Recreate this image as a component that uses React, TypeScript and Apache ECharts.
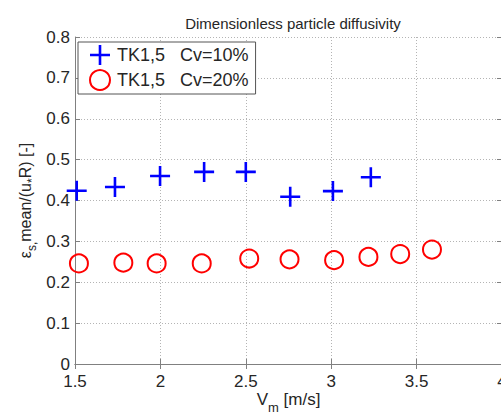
import React, { useEffect, useRef } from "react";
import * as echarts from "echarts";

const seriesNames = ["TK1,5   Cv=10%", "TK1,5   Cv=20%"];
const cv10X = [1.51, 1.734, 1.998, 2.256, 2.5, 2.76, 3.01, 3.232];
const cv10Y = [0.424, 0.433, 0.46, 0.47, 0.47, 0.409, 0.423, 0.457];
const cv20X = [1.523, 1.783, 1.978, 2.242, 2.52, 2.756, 3.017, 3.218, 3.404, 3.59];
const cv20Y = [0.246, 0.248, 0.246, 0.246, 0.258, 0.256, 0.254, 0.262, 0.269, 0.28];

const xMin = 1.5, xMax = 4, xStep = 0.5;
const yMin = 0, yMax = 0.8, yStep = 0.1;

const FONT = "'Liberation Sans', Arial, sans-serif";
const PLUS = "path://M8.7,0h2.6v8.7h8.7v2.6h-8.7v8.7h-2.6v-8.7h-8.7v-2.6h8.7z";

export default function App() {
  const ref = useRef<HTMLDivElement>(null);
  useEffect(() => {
    if (!ref.current) return;
    const chart = echarts.init(ref.current, null, { renderer: "svg" });
    const axisLine = { show: true, lineStyle: { color: "#808080", width: 1 } };
    const tick = { show: true, inside: true, length: 5, lineStyle: { color: "#808080" } };
    const split = { show: true, lineStyle: { color: "#b4b4b4", type: [1, 2] as any, width: 1 } };
    const label = { color: "#262626", fontSize: 17, fontFamily: FONT };
    chart.setOption({
      animation: false,
      backgroundColor: "#fff",
      title: {
        text: "Dimensionless particle diffusivity",
        left: 288,
        textAlign: "center",
        top: 11,
        textStyle: { fontSize: 15, fontWeight: "normal", color: "#262626", fontFamily: FONT },
      },
      grid: { left: 75, top: 37, right: -1, bottom: 48, outerBoundsMode: "none", containLabel: false },
      legend: {
        orient: "vertical",
        left: 78,
        top: 42,
        padding: [3, 7, 3, 11],
        itemGap: 4,
        itemWidth: 20,
        itemHeight: 20,
        borderColor: "#555",
        borderWidth: 1,
        borderRadius: 0,
        backgroundColor: "#fff",
        textStyle: { fontSize: 18, color: "#262626", fontFamily: FONT, padding: [0, 0, 0, 2] },
        data: seriesNames,
      },
      xAxis: [
        {
          type: "value",
          min: xMin,
          max: xMax,
          interval: xStep,
          axisLine,
          axisTick: tick,
          splitLine: split,
          axisLabel: { ...label, margin: 9 },
          name: "{a|V}{sub|m}{a| [m/s]}",
          nameLocation: "middle",
          nameGap: 25,
          nameMoveOverlap: false,
          nameTextStyle: {
            rich: {
              a: { fontSize: 17, lineHeight: 20, color: "#262626", fontFamily: FONT },
              sub: { fontSize: 13, lineHeight: 10, padding: [16, 0, 0, 0], color: "#262626", fontFamily: FONT },
            },
          },
        },
        {
          type: "value",
          position: "top",
          min: xMin,
          max: xMax,
          interval: xStep,
          axisLine,
          axisTick: tick,
          splitLine: { show: false },
          axisLabel: { show: false },
        },
      ],
      yAxis: [
        {
          type: "value",
          min: yMin,
          max: yMax,
          interval: yStep,
          axisLine,
          axisTick: tick,
          splitLine: split,
          axisLabel: { ...label, margin: 5 },
          name: "{a|ε}{sub|s,}{a|mean/(u}{sub|*}{a|R) [-]}",
          nameLocation: "middle",
          nameGap: 40,
          nameMoveOverlap: false,
          nameRotate: 90,
          nameTextStyle: {
            rich: {
              a: { fontSize: 16, lineHeight: 20, color: "#262626", fontFamily: FONT },
              sub: { fontSize: 12, lineHeight: 12, padding: [14, 0, 0, 0], color: "#262626", fontFamily: FONT },
            },
          },
        },
        {
          type: "value",
          position: "right",
          min: yMin,
          max: yMax,
          interval: yStep,
          axisLine,
          axisTick: tick,
          splitLine: { show: false },
          axisLabel: { show: false },
        },
      ],
      series: [
        {
          name: seriesNames[0],
          type: "scatter",
          symbol: PLUS,
          symbolSize: 20,
          itemStyle: { color: "#0000ff", borderWidth: 0, opacity: 1 },
          data: cv10X.map((x, i) => [x, cv10Y[i]]),
        },
        {
          name: seriesNames[1],
          type: "scatter",
          symbol: "circle",
          symbolSize: 18,
          itemStyle: { color: "rgba(255,255,255,0)", borderColor: "#ff0000", borderWidth: 2, opacity: 1 },
          data: cv20X.map((x, i) => [x, cv20Y[i]]),
        },
      ],
    });
    return () => chart.dispose();
  }, []);
  return (
    <div
      ref={ref}
      style={{ position: "fixed", left: 0, top: 0, width: 501, height: 412 }}
    />
  );
}
